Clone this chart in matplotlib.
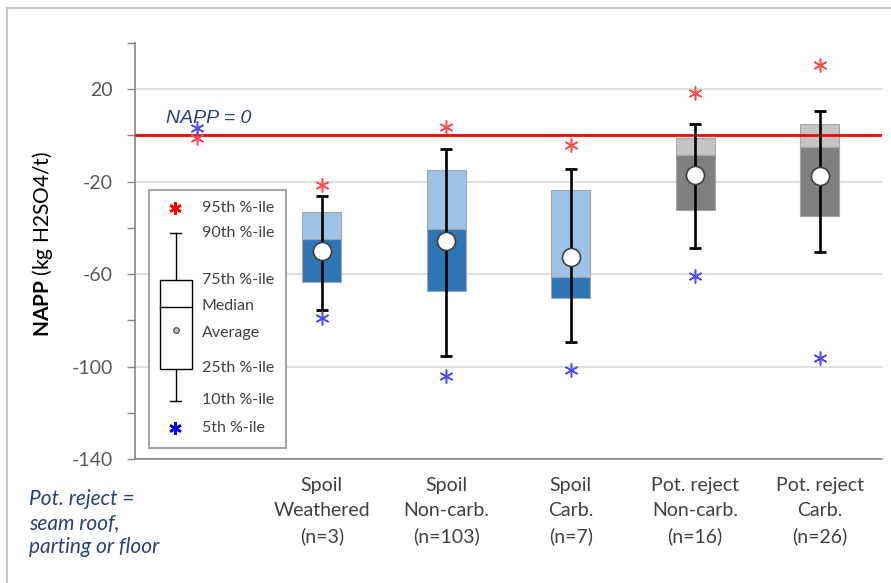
import matplotlib
matplotlib.use("Agg")
import matplotlib.pyplot as plt
from matplotlib.patches import Rectangle
from matplotlib.lines import Line2D
import numpy as np

plt.rcParams['font.family'] = ['Lato', 'DejaVu Sans']
plt.rcParams['mathtext.fontset'] = 'custom'
plt.rcParams['mathtext.bf'] = 'Lato:bold'
plt.rcParams['mathtext.rm'] = 'Lato'
plt.rcParams['axes.unicode_minus'] = False

# slot 0 is the empty slot under the legend box
categories = ["", "Spoil\nWeathered\n(n=3)", "Spoil\nNon-carb.\n(n=103)", "Spoil\nCarb.\n(n=7)",
              "Pot. reject\nNon-carb.\n(n=16)", "Pot. reject\nCarb.\n(n=26)"]
p5 = np.array([3.2, -79.0, -104.3, -101.4, -61.0, -96.4])
p10 = np.array([np.nan, -75.5, -95.4, -89.2, -48.5, -50.6])
p25 = np.array([np.nan, -63.6, -67.5, -70.4, -32.2, -34.8])
median = np.array([np.nan, -44.9, -40.5, -61.3, -8.4, -4.8])
p75 = np.array([np.nan, -33.2, -14.8, -23.8, -1.1, 4.9])
p90 = np.array([np.nan, -26.1, -5.8, -14.5, 5.1, 10.7])
p95 = np.array([-1.1, -21.3, 3.8, -4.0, 18.4, 30.6])
average = np.array([np.nan, -50.2, -45.5, -52.6, -17.3, -17.7])

lower_colors = ['#2E75B6', '#2E75B6', '#2E75B6', '#7F7F7F', '#7F7F7F']
upper_colors = ['#9DC3E6', '#9DC3E6', '#9DC3E6', '#C4C4C4', '#C4C4C4']

W, H = 891, 583
fig = plt.figure(figsize=(W / 100, H / 100), dpi=100)

# outer frame (left and top edges visible)
fig.add_artist(Line2D([7 / W, 7 / W], [0, 1 - 8 / H], transform=fig.transFigure, color='#C8C8C8', lw=1.5))
fig.add_artist(Line2D([7 / W, 1], [1 - 8 / H, 1 - 8 / H], transform=fig.transFigure, color='#C8C8C8', lw=1.5))

ax = fig.add_axes([135 / W, 1 - 459 / H, (882 - 135) / W, (459 - 43) / H])
x = np.arange(len(categories))
xb = x[1:]

ax.bar(xb, median[1:] - p25[1:], bottom=p25[1:], width=0.31, color=lower_colors,
       edgecolor='#A6A6A6', lw=0.8, zorder=2)
ax.bar(xb, p75[1:] - median[1:], bottom=median[1:], width=0.31, color=upper_colors,
       edgecolor='#A6A6A6', lw=0.8, zorder=2)

ax.axhline(0, color='#FF0000', lw=2.0, zorder=3)

ax.vlines(xb, p10[1:], p90[1:], color='black', lw=1.9, zorder=4)
ax.plot(xb, p10[1:], ls='none', marker='_', ms=9, mew=2.0, color='black', zorder=4)
ax.plot(xb, p90[1:], ls='none', marker='_', ms=9, mew=2.0, color='black', zorder=4)
ax.plot(xb, average[1:], ls='none', marker='o', ms=13, mfc='white', mec='#404040', mew=1.2, zorder=5)

ax.plot(x, p95, ls='none', marker=(6, 2, 0), ms=10, mec='#FF4B4B', mew=1.1, zorder=5)
ax.plot(x, p5, ls='none', marker=(6, 2, 0), ms=10, mec='#4B4BFF', mew=1.1, zorder=5)

ax.text(-0.25, 7.5, "NAPP = 0", style='italic', family=['Liberation Sans'], fontsize=14,
        color='#2B3F80', va='center', ha='left', zorder=6)

ax.set_xlim(-0.5, len(categories) - 0.5)
ax.set_ylim(-140, 40)
ax.set_yticks([-140, -100, -60, -20, 20])
ax.set_yticks([-120, -80, -40, 0, 40], minor=True)
ax.yaxis.grid(True, which='major', color='#D9D9D9', lw=1.2, zorder=0)
ax.set_axisbelow(True)
ax.set_xticks(xb)
ax.set_xticklabels(categories[1:], fontsize=14, color='#404040', linespacing=1.55)
ax.tick_params(axis='x', length=0, pad=13)
ax.tick_params(axis='y', which='both', length=6, color='#868686', width=1,
               labelsize=14, labelcolor='#595959', pad=10)
for s in ['top', 'right']:
    ax.spines[s].set_visible(False)
for s in ['left', 'bottom']:
    ax.spines[s].set_color('#868686')
    ax.spines[s].set_linewidth(1.2)

fig.text(43 / W, 1 - 244 / H, r"$\mathbf{NAPP}$ (kg H2SO4/t)", rotation=90,
         ha='center', va='center', fontsize=15, color='black')

fig.text(29 / W, 1 - 523 / H, "Pot. reject =\nseam roof,\nparting or floor", style='italic',
         fontsize=15, color='#2B3F80', ha='left', va='center', linespacing=1.25)

# drawn legend box
lg = fig.add_axes([149 / W, 1 - 448 / H, 137 / W, 258 / H])
lg.set_xlim(149, 286)
lg.set_ylim(448, 190)
lg.set_xticks([])
lg.set_yticks([])
for s in lg.spines.values():
    s.set_color('#A6A6A6')
    s.set_linewidth(1.5)
lg.add_patch(Rectangle((159.5, 280), 32, 89, facecolor='white', edgecolor='black', lw=1.0))
lg.plot([159.5, 191.5], [306.5, 306.5], color='black', lw=1.0)
lg.plot([175.5, 175.5], [233, 280], color='black', lw=1.0)
lg.plot([175.5, 175.5], [369, 400.5], color='black', lw=1.0)
lg.plot([170, 181], [233, 233], color='black', lw=1.0)
lg.plot([170, 181], [400.5, 400.5], color='black', lw=1.0)
lg.plot([175.5], [330], marker='o', ms=4, mfc='#BFBFBF', mec='#595959', mew=1.0)
lg.plot([174.5], [208], marker=(6, 2, 0), ms=9, mec='#FF0000', mew=1.8)
lg.plot([174.5], [428], marker=(6, 2, 0), ms=9, mec='#0000FF', mew=1.8)
legend_labels = ["95th %-ile", "90th %-ile", "75th %-ile", "Median", "Average",
                 "25th %-ile", "10th %-ile", "5th %-ile"]
legend_y = [208, 233, 280, 306, 333, 368, 400, 428]
for lab, yy in zip(legend_labels, legend_y):
    lg.text(201.5, yy, lab, fontsize=11.5, color='#404040', ha='left', va='center')

fig.savefig("out.png", dpi=100)
